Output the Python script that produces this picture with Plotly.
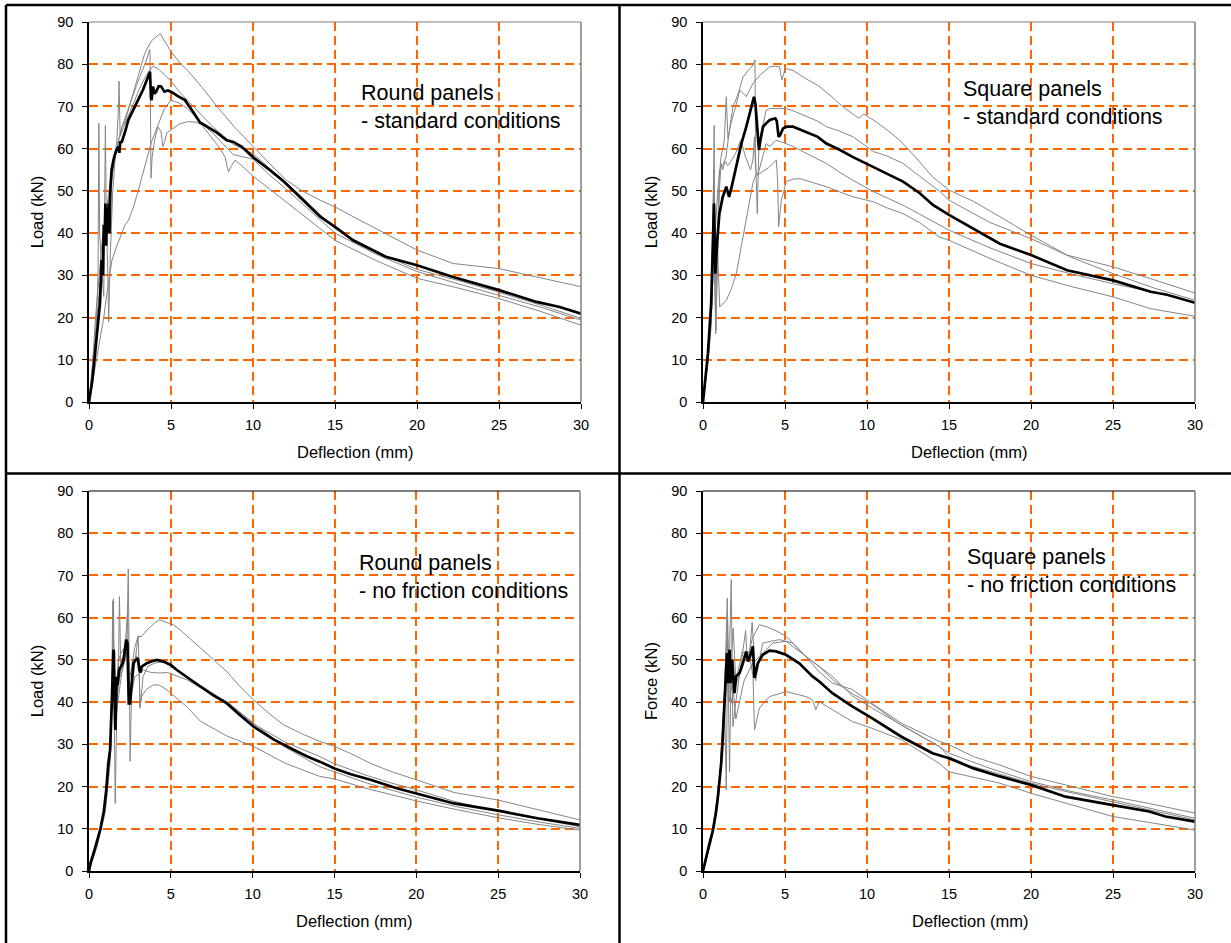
import plotly.graph_objects as go

# ---------------- DATA ----------------
x_ticks = [0, 5, 10, 15, 20, 25, 30]
y_ticks = [0, 10, 20, 30, 40, 50, 60, 70, 80, 90]
panel_labels = ["Round panels<br>- standard conditions",
                "Square panels<br>- standard conditions",
                "Round panels<br>- no friction conditions",
                "Square panels<br>- no friction conditions"]
y_titles = ["Load (kN)", "Load (kN)", "Load (kN)", "Force (kN)"]
x_title = "Deflection (mm)"

# Panel 1: round panels, standard conditions
p1_avg_x = [0, 0.2, 0.37, 0.55, 0.67, 0.77, 0.85, 0.9, 0.95, 1.0, 1.05, 1.1, 1.15, 1.2, 1.25, 1.3, 1.38, 1.5, 1.65, 1.79, 1.85, 1.9, 2.0, 2.2, 2.4, 2.7, 3.0, 3.3, 3.55, 3.72, 3.78, 3.82, 3.9, 4.0, 4.1, 4.25, 4.4, 4.6, 4.8, 5.0, 5.4, 5.85, 6.3, 6.77, 7.2, 7.8, 8.4, 8.8, 9.3, 10.0, 11.0, 11.8, 13.0, 14.1, 15.0, 16.1, 18.1, 20.0, 22.2, 25.0, 27.3, 28.7, 30]
p1_avg_y = [0, 5, 11.5, 18, 23.4, 33.6, 30, 42, 38, 47, 37, 46, 40, 47, 40, 50, 55, 57.5, 59.5, 60.5, 59, 61.5, 61.6, 64, 66.8, 69.2, 71.5, 74, 76.5, 78.2, 72, 71.5, 74.7, 73, 73.5, 74.8, 74.7, 73.5, 73.8, 73.5, 72.5, 71.5, 69, 66.2, 65.2, 63.8, 62, 61.6, 60.5, 58, 55, 52.5, 48, 43.9, 41.5, 38.3, 34.4, 32.4, 29.6, 26.5, 23.7, 22.5, 20.9]
p1_t1_x = [0, 0.2, 0.4, 0.6, 0.8, 1.0, 1.3, 1.5, 1.7, 1.8, 1.83, 1.9, 2.0, 2.2, 2.5, 2.8, 3.1, 3.4, 3.8, 4.2, 4.35, 4.6, 5.0, 5.5, 6.0, 6.9, 7.8, 8.9, 10.0, 11.0, 12.05, 13, 14.1, 15, 16.1, 18.1, 20, 22.2, 23.5, 25, 27.3, 30]
p1_t1_y = [0, 8, 20, 29, 38, 44, 52, 56, 62, 70, 76, 63, 65, 66.5, 70.5, 74.7, 79, 82.6, 85.5, 86.9, 87.3, 85.5, 83, 80.5, 78.6, 74.5, 70, 65, 60.5, 56.5, 52.5, 50, 47.8, 46.2, 43.9, 39.9, 36, 32.8, 32.2, 31.6, 29.6, 27.3]
p1_t2_x = [0, 0.2, 0.4, 0.55, 0.6, 0.65, 0.8, 0.9, 1.0, 1.05, 1.15, 1.2, 1.3, 1.45, 1.6, 1.8, 2.0, 2.3, 2.6, 2.9, 3.2, 3.5, 3.7, 3.72, 3.78, 3.85, 4.0, 4.2, 4.4, 4.5, 4.6, 4.74, 5.0, 5.5, 6.0, 6.5, 7.0, 7.6, 8.2, 8.8, 10.0, 11, 12, 13, 14, 15, 17.5, 20, 22.5, 25, 27.5, 30]
p1_t2_y = [0, 6, 14, 30, 66, 40, 30, 25, 65.5, 45, 30, 19, 35, 50, 58, 62, 65, 68.5, 72, 75, 78, 81, 83.5, 83, 53, 58, 62, 65.2, 64, 60.5, 61.5, 63.7, 64.4, 65.8, 66.4, 66.3, 65.5, 63.5, 61, 58.6, 57.5, 53.8, 50.5, 47, 43.5, 40, 35, 30.9, 28, 25.3, 22.5, 19.4]
p1_t3_x = [0, 0.3, 0.6, 0.9, 1.2, 1.5, 1.8, 2.1, 2.5, 2.8, 3.0, 3.3, 3.6, 3.9, 4.2, 4.6, 5.0, 5.5, 6.0, 6.5, 7.0, 7.6, 8.2, 8.8, 10.0, 11, 12, 13, 14.1, 15, 17.5, 20, 22.5, 25, 27.5, 30]
p1_t3_y = [0, 12, 25, 38, 48, 56, 62, 65, 68.5, 71.5, 73.5, 76, 78, 79.5, 79, 77.5, 76, 73.5, 71.5, 69.5, 67.5, 65, 63, 61, 58.8, 55.5, 52, 48.5, 44.5, 41, 35.5, 31.4, 28.8, 26.0, 23, 19.8]
p1_t4_x = [0, 0.3, 0.6, 0.9, 1.1, 1.25, 1.4, 1.7, 2.0, 2.2, 2.4, 2.7, 3.0, 3.4, 3.8, 4.2, 4.6, 5.0, 5.5, 6.0, 6.5, 7.0, 7.5, 8.0, 8.3, 8.5, 8.7, 8.9, 9.3, 10.0, 11, 12, 13, 14, 15, 17.5, 20, 22.5, 25, 27.5, 30]
p1_t4_y = [0, 7, 14, 20, 26, 30, 33.6, 37, 40, 42, 43, 46, 50, 56, 61.5, 65.5, 69.5, 71.5, 70.8, 69.5, 67.5, 65, 62.5, 60, 58, 54.5, 56, 57.3, 56, 53.5, 50.5, 47.5, 44.5, 41.5, 38.3, 33.5, 29.3, 27, 24.5, 21.5, 18.2]

# Panel 2: square panels, standard conditions
p2_avg_x = [0, 0.3, 0.5, 0.6, 0.67, 0.75, 0.8, 0.87, 1.0, 1.2, 1.42, 1.5, 1.59, 1.75, 1.93, 2.1, 2.34, 2.64, 2.9, 3.11, 3.2, 3.3, 3.41, 3.5, 3.66, 3.85, 4.07, 4.41, 4.5, 4.61, 4.7, 4.88, 5.1, 5.49, 6.3, 7.0, 7.52, 8.3, 9.15, 10.37, 11.2, 12.2, 13.2, 14.04, 15, 16.1, 18.1, 20, 22.2, 25, 27.3, 28.3, 30]
p2_avg_y = [0, 11.5, 23.4, 35, 47, 30.4, 34, 38.3, 44.6, 48.5, 51, 49.5, 48.6, 51, 54, 57.5, 61.2, 65.2, 69, 72.3, 70.5, 64, 59.7, 62, 65.2, 66, 66.8, 67.2, 66.5, 62.8, 63.2, 64.8, 65.2, 65.2, 64, 62.8, 61.2, 59.8, 58, 55.7, 54.2, 52.2, 49.5, 46.6, 44.3, 41.9, 37.5, 34.8, 31.2, 28.8, 26.1, 25.4, 23.5]
p2_t1_x = [0, 0.3, 0.5, 0.7, 0.9, 1.1, 1.3, 1.42, 1.52, 1.7, 2.0, 2.24, 2.64, 3.05, 3.5, 4.07, 4.4, 4.67, 4.75, 4.82, 4.9, 5.02, 5.5, 6.3, 7.0, 7.8, 8.5, 9.3, 9.5, 9.8, 10.5, 11.2, 12, 13, 14, 15, 16.5, 18.1, 20, 22.2, 25, 27.3, 30]
p2_t1_y = [0, 10, 20, 38, 50, 58, 62, 72.3, 62.4, 66, 70, 73.9, 72.3, 75.5, 77.5, 79.4, 79.5, 79.4, 77.5, 76.3, 77.5, 79, 78.5, 76.5, 75, 72.5, 70, 67.8, 67.2, 68.2, 66.5, 64.5, 62, 57.8, 53.3, 50.2, 47.5, 43.9, 39.5, 34.8, 32, 29.2, 25.8]
p2_t2_x = [0, 0.3, 0.5, 0.62, 0.68, 0.72, 0.8, 0.9, 1.0, 1.2, 1.4, 1.6, 1.83, 2.1, 2.44, 2.75, 3.05, 3.17, 3.2, 3.31, 3.41, 3.6, 3.85, 4.07, 4.66, 5.08, 5.6, 6.3, 7.0, 7.52, 8.3, 9.15, 10.4, 11.2, 12.2, 13.2, 14.4, 15, 17.5, 20, 22.5, 25, 27.5, 30]
p2_t2_y = [0, 10, 22, 40, 65.5, 35, 28, 45, 55, 56, 58, 64, 70, 72.5, 77, 78.5, 79.8, 81, 58.9, 44.6, 61.2, 64.5, 69.1, 69.5, 69.5, 69.5, 68.8, 67.6, 66.5, 65.2, 64.2, 62.8, 59.3, 58.3, 56.5, 53.5, 50, 47.8, 42.5, 38.7, 34.2, 30.4, 27, 24.1]
p2_t3_x = [0, 0.3, 0.5, 0.6, 0.65, 0.7, 0.78, 0.9, 1.0, 1.1, 1.2, 1.35, 1.5, 1.7, 2.0, 2.3, 2.6, 2.9, 3.04, 3.14, 3.2, 3.34, 3.5, 3.85, 4.07, 4.45, 5.0, 5.49, 6.5, 7.52, 8.3, 9.15, 10.4, 11.2, 12.2, 13.2, 14.4, 15, 17.5, 20, 22.5, 25, 27.5, 30]
p2_t3_y = [0, 10, 22, 45, 55, 30, 17, 35, 50, 56.5, 55, 57, 56, 57, 59, 62, 58, 55, 57.3, 62.8, 55, 53.7, 56, 61.2, 60.5, 62, 61.3, 60.5, 58.5, 56.5, 54.5, 52.5, 49.8, 48.3, 46.6, 44.5, 41.9, 40.7, 36.5, 32.8, 30.3, 28, 26, 23.7]
p2_t4_x = [0, 0.3, 0.5, 0.6, 0.66, 0.72, 0.78, 0.85, 0.95, 1.02, 1.42, 1.7, 2.03, 2.3, 2.64, 3.05, 3.24, 3.46, 4.0, 4.47, 4.55, 4.61, 4.7, 4.78, 5.08, 5.5, 5.9, 6.7, 7.52, 8.3, 9.15, 10.4, 11.2, 12.2, 13.2, 14.4, 15, 17.5, 20, 22.5, 25, 27.3, 30]
p2_t4_y = [0, 9, 18, 30, 52, 25, 16.2, 40, 28, 22.5, 24.1, 26.5, 30.4, 36, 43.9, 52, 54, 54.1, 55.5, 57.3, 52.6, 41.5, 45, 47.8, 52.2, 52.8, 52.9, 52, 51, 49.8, 48.6, 47.4, 46, 44.6, 42.5, 39.1, 38.3, 34, 30, 27.3, 24.9, 22.1, 20.3]

# Panel 3: round panels, no friction conditions
p3_avg_x = [0, 0.1, 0.3, 0.5, 0.7, 0.9, 1.05, 1.18, 1.29, 1.39, 1.49, 1.52, 1.55, 1.61, 1.69, 1.75, 1.84, 1.94, 2.06, 2.14, 2.27, 2.35, 2.43, 2.51, 2.6, 2.71, 2.85, 2.98, 3.08, 3.15, 3.22, 3.35, 3.53, 3.8, 4.14, 4.55, 5.0, 5.37, 6.0, 6.8, 7.6, 8.43, 9.2, 10.06, 10.7, 11.3, 12.5, 13.3, 14.1, 15, 16, 17.2, 18.8, 20, 22.3, 25, 27.4, 30]
p3_avg_y = [0, 2, 4.5, 7, 10, 14, 19, 25.5, 28.7, 39.7, 52.4, 52, 42.9, 33.4, 46, 44, 47.6, 48.4, 49.2, 50.8, 54.8, 54, 39.7, 39.7, 45, 49.2, 50, 50.4, 47.6, 47, 48.4, 48.8, 49.2, 49.6, 50, 49.6, 48.8, 47.6, 45.8, 43.7, 41.6, 39.7, 37, 34.2, 32.6, 31.1, 28.7, 27.2, 25.9, 24.3, 22.9, 21.6, 19.6, 18.4, 16, 14.3, 12.5, 10.9]
p3_t1_x = [0, 0.5, 1.0, 1.2, 1.3, 1.4, 1.45, 1.5, 1.6, 1.8, 2.0, 2.2, 2.35, 2.45, 2.6, 2.8, 3.0, 3.2, 3.6, 4.0, 4.3, 4.7, 5.16, 5.6, 6.0, 6.8, 7.6, 8.43, 9.2, 10.06, 11, 11.9, 13, 14.1, 15, 16, 17.2, 18.5, 20, 22.3, 25, 27.4, 30]
p3_t1_y = [0, 6, 16, 24, 30, 45, 64, 45, 40, 50, 52, 53, 61, 45, 48, 53, 55.6, 55.5, 57.3, 58.7, 59.5, 59, 58.3, 57, 55.6, 52.8, 50, 47.2, 43.8, 40.5, 37.3, 34.6, 32.5, 30.7, 29.5, 27.8, 25.5, 23.5, 21.6, 18.6, 16.8, 14.5, 12.1]
p3_t2_x = [0, 0.5, 1.0, 1.3, 1.45, 1.5, 1.55, 1.6, 1.7, 1.8, 1.86, 1.95, 2.1, 2.3, 2.4, 2.45, 2.51, 2.6, 2.8, 3.0, 3.33, 3.8, 4.35, 4.8, 5.16, 5.98, 7.0, 8.43, 10.06, 11.9, 14.1, 15, 17, 20, 22.5, 25, 27.5, 30]
p3_t2_y = [0, 7, 15, 27, 50, 64.5, 35, 16, 38, 48, 65, 46, 49, 52, 71.5, 40, 26, 42, 46, 46.5, 47.6, 47, 46.9, 47, 46.5, 45.3, 43, 40.1, 35, 29.5, 24.7, 23.5, 20.8, 17.5, 15.2, 13.3, 11.6, 10.1]
p3_t3_x = [0, 0.5, 1.0, 1.3, 1.4, 1.5, 1.6, 1.7, 1.9, 2.0, 2.2, 2.35, 2.45, 2.55, 2.7, 2.9, 3.0, 3.05, 3.12, 3.22, 3.5, 3.94, 4.3, 4.76, 5.5, 6.0, 6.8, 8.4, 10.06, 12, 14.1, 15, 17, 20, 22.5, 25, 27.5, 30]
p3_t3_y = [0, 6, 14, 26, 38, 48, 42, 38, 44, 47, 50, 52, 47, 40, 46, 52, 55.6, 50, 39, 41.3, 43, 44.1, 44, 42.9, 40.5, 38.8, 35.5, 32, 29.5, 25.5, 22.4, 21.8, 19.5, 16.6, 14.5, 12.6, 11, 9.7]
p3_t4_x = [0, 0.5, 1.0, 1.3, 1.4, 1.5, 1.58, 1.7, 1.9, 2.1, 2.3, 2.4, 2.5, 2.7, 2.9, 3.05, 3.12, 3.3, 3.6, 4.0, 4.5, 5.0, 6.0, 7.0, 8.4, 10.06, 12, 14.1, 15, 17, 18.5, 19.5, 20, 22.3, 25, 27.5, 30]
p3_t4_y = [0, 7, 16, 30, 40, 55, 45, 40, 48, 51, 55, 50, 42, 48, 51, 50, 38.5, 46, 48.5, 49.2, 49.6, 48.6, 46, 43.5, 40, 34.8, 30.5, 27.1, 25.4, 22.6, 20.8, 19.8, 19.2, 16.5, 14.1, 12.3, 10.5]

# Panel 4: square panels, no friction conditions
p4_avg_x = [0, 0.2, 0.4, 0.6, 0.8, 0.91, 1.0, 1.11, 1.2, 1.32, 1.46, 1.5, 1.54, 1.62, 1.68, 1.78, 1.85, 1.92, 2.02, 2.23, 2.43, 2.63, 2.75, 2.87, 3.04, 3.1, 3.14, 3.34, 3.64, 4.05, 4.45, 5.06, 5.87, 6.68, 7.09, 7.89, 9.1, 10.3, 12.1, 14.0, 15, 16.5, 18.1, 20, 22.1, 25, 27.2, 28.2, 30]
p4_avg_y = [0, 3.5, 6.6, 9.5, 14, 17.6, 21, 25.5, 31, 39.7, 51.6, 48, 44.5, 52.4, 44.5, 50, 46, 42.1, 46.1, 46.9, 49.2, 52, 49.6, 50.8, 53.2, 47, 45.7, 49.2, 51.2, 52.2, 52, 51.2, 49.2, 46.1, 44.9, 42.1, 39, 36.2, 31.8, 27.9, 26.7, 24.3, 22.4, 20.4, 17.6, 15.6, 14.1, 12.9, 11.7]
p4_t1_x = [0, 0.5, 1.0, 1.3, 1.48, 1.55, 1.72, 1.82, 2.0, 2.3, 2.6, 2.7, 3.0, 3.44, 3.85, 4.5, 5.06, 5.6, 6.28, 7.0, 7.89, 9.1, 10.3, 12.1, 14.4, 15, 16.5, 18.1, 20, 22.1, 25, 27.2, 30]
p4_t1_y = [0, 8, 20, 40, 64.6, 40, 69, 34.2, 40, 48, 56.9, 50, 55, 58.3, 57.9, 56.8, 55.6, 53.5, 50.8, 47.5, 44.5, 43, 39.7, 35, 30.7, 29.9, 27.1, 25.1, 22.4, 20.4, 17.6, 16, 13.7]
p4_t2_x = [0, 0.5, 1.0, 1.3, 1.42, 1.5, 1.62, 1.72, 1.84, 2.0, 2.4, 2.8, 3.0, 3.2, 3.64, 4.66, 5.47, 6.2, 7.09, 8.0, 9.1, 10.3, 12.1, 14.4, 15, 17.5, 20, 22.5, 25, 27.5, 30]
p4_t2_y = [0, 8, 21, 42, 19.2, 55, 23.5, 50, 57.5, 45, 52, 50, 58.9, 45, 54, 54.8, 54, 51, 48.4, 45, 42, 39.5, 34.5, 29.5, 27.9, 24.3, 21.2, 18.8, 16.8, 14.6, 12.5]
p4_t3_x = [0, 0.5, 1.0, 1.35, 1.5, 1.6, 1.8, 2.0, 2.5, 3.0, 3.44, 4.25, 5.06, 6.28, 7.89, 9.1, 10.3, 12.1, 14.4, 15, 16.2, 17.5, 20, 22.5, 25, 27.5, 30]
p4_t3_y = [0, 7, 19, 45, 60, 40, 45, 36, 45, 49, 50.8, 54, 54.4, 50.8, 46.1, 41.5, 38.6, 34.6, 29.5, 27.1, 25, 23.6, 20.8, 18.5, 16.4, 14.2, 12.1]
p4_t4_x = [0, 0.5, 1.0, 1.4, 1.55, 1.7, 2.0, 2.5, 2.8, 3.05, 3.14, 3.44, 4.05, 5.06, 6.28, 6.68, 6.88, 7.09, 7.89, 9.1, 10.3, 12.1, 14.4, 15, 18.1, 20, 25, 30]
p4_t4_y = [0, 7, 20, 48, 52, 40, 44, 50, 52, 46, 33.4, 38.6, 41.3, 42.5, 41.3, 40.5, 38.2, 40.1, 38.2, 35.4, 33.8, 31.1, 25.5, 23.5, 20.8, 18.4, 12.9, 9.7]

panels = [
    (p1_avg_x, p1_avg_y, [(p1_t1_x, p1_t1_y), (p1_t2_x, p1_t2_y), (p1_t3_x, p1_t3_y), (p1_t4_x, p1_t4_y)]),
    (p2_avg_x, p2_avg_y, [(p2_t1_x, p2_t1_y), (p2_t2_x, p2_t2_y), (p2_t3_x, p2_t3_y), (p2_t4_x, p2_t4_y)]),
    (p3_avg_x, p3_avg_y, [(p3_t1_x, p3_t1_y), (p3_t2_x, p3_t2_y), (p3_t3_x, p3_t3_y), (p3_t4_x, p3_t4_y)]),
    (p4_avg_x, p4_avg_y, [(p4_t1_x, p4_t1_y), (p4_t2_x, p4_t2_y), (p4_t3_x, p4_t3_y), (p4_t4_x, p4_t4_y)]),
]

# ---------------- LAYOUT (pixel geometry) ----------------
W, H = 1231, 943
# plot-area boxes in pixels: (left, right, top, bottom)
boxes = [(89, 581, 22, 402), (703, 1195, 22, 402), (89, 580, 491, 871), (703, 1195, 491, 871)]
label_pos = [(359, 107), (961, 103), (357, 577), (965, 571)]
xtitle_pos = [(355, 452), (969, 452), (354, 921), (970, 921)]

FONT = "Liberation Sans, Arial, sans-serif"
GRID = "#FF6600"

fig = go.Figure()
layout = dict(template="none", width=W, height=H, margin=dict(l=0, r=0, t=0, b=0, pad=0),
              paper_bgcolor="white", plot_bgcolor="white", showlegend=False,
              font=dict(family=FONT, color="black"))
shapes = []
annotations = []

def px_x(p):
    return p / W

def px_y(p):
    return 1 - p / H

for i, (box, (ax, ay, tests)) in enumerate(zip(boxes, panels)):
    n = i + 1
    xa = "x" if n == 1 else f"x{n}"
    ya = "y" if n == 1 else f"y{n}"
    for tx, ty in tests:
        fig.add_trace(go.Scatter(x=tx, y=ty, mode="lines", xaxis=xa, yaxis=ya,
                                 line=dict(color="#858585", width=1), hoverinfo="skip"))
    fig.add_trace(go.Scatter(x=ax, y=ay, mode="lines", xaxis=xa, yaxis=ya,
                             line=dict(color="black", width=2.7), hoverinfo="skip"))
    l, r, t, b = box
    xkey = "xaxis" if n == 1 else f"xaxis{n}"
    ykey = "yaxis" if n == 1 else f"yaxis{n}"
    layout[xkey] = dict(domain=[px_x(l), px_x(r)], anchor=ya, range=[0, 30], automargin=False,
                        tickmode="array", tickvals=x_ticks, ticktext=[str(v) for v in x_ticks],
                        ticks="outside", ticklen=5, tickcolor="black", tickwidth=1,
                        showline=True, linecolor="black", linewidth=1.5, zeroline=False,
                        showgrid=True, gridcolor=GRID, gridwidth=1.5, griddash="9px,5px",
                        tickfont=dict(size=14.5, family=FONT, color="black"), ticklabelstandoff=4)
    layout[ykey] = dict(domain=[px_y(b), px_y(t)], anchor=xa, range=[0, 90], automargin=False,
                        tickmode="array", tickvals=y_ticks, ticktext=[str(v) for v in y_ticks],
                        ticks="outside", ticklen=5, tickcolor="black", tickwidth=1,
                        showline=True, linecolor="black", linewidth=1.5, zeroline=False,
                        showgrid=True, gridcolor=GRID, gridwidth=1.5, griddash="9px,5px",
                        tickfont=dict(size=14.5, family=FONT, color="black"), ticklabelstandoff=6,
                        title=dict(text=y_titles[i], font=dict(size=16.5, family=FONT, color="black"), standoff=9))
    top_col = "#808080" if n <= 2 else "black"
    shapes.append(dict(type="line", xref="paper", yref="paper", x0=px_x(l), x1=px_x(r),
                       y0=px_y(t), y1=px_y(t), line=dict(color=top_col, width=1.2)))
    shapes.append(dict(type="line", xref="paper", yref="paper", x0=px_x(r), x1=px_x(r),
                       y0=px_y(b), y1=px_y(t), line=dict(color="#808080", width=1.5)))
    lx, ly = label_pos[i]
    annotations.append(dict(text=panel_labels[i], xref="paper", yref="paper",
                            x=px_x(lx), y=px_y(ly), xanchor="left", yanchor="middle",
                            align="left", showarrow=False,
                            font=dict(size=21.5, family=FONT, color="black")))
    tx_, ty_ = xtitle_pos[i]
    annotations.append(dict(text=x_title, xref="paper", yref="paper",
                            x=px_x(tx_), y=px_y(ty_), xanchor="center", yanchor="middle",
                            showarrow=False, font=dict(size=16.5, family=FONT, color="black")))

# table borders
for (x0, y0, x1, y1) in [(6, 5, 1231, 5), (6, 5, 6, 943), (619.5, 5, 619.5, 943), (6, 473.5, 1231, 473.5)]:
    shapes.append(dict(type="line", xref="paper", yref="paper", x0=px_x(x0), x1=px_x(x1),
                       y0=px_y(y0), y1=px_y(y1), line=dict(color="black", width=2.5)))

layout["shapes"] = shapes
layout["annotations"] = annotations
fig.update_layout(**layout)
fig.write_html("out.html", config={"displayModeBar": False},
               post_script="document.body.style.margin='0px';")
